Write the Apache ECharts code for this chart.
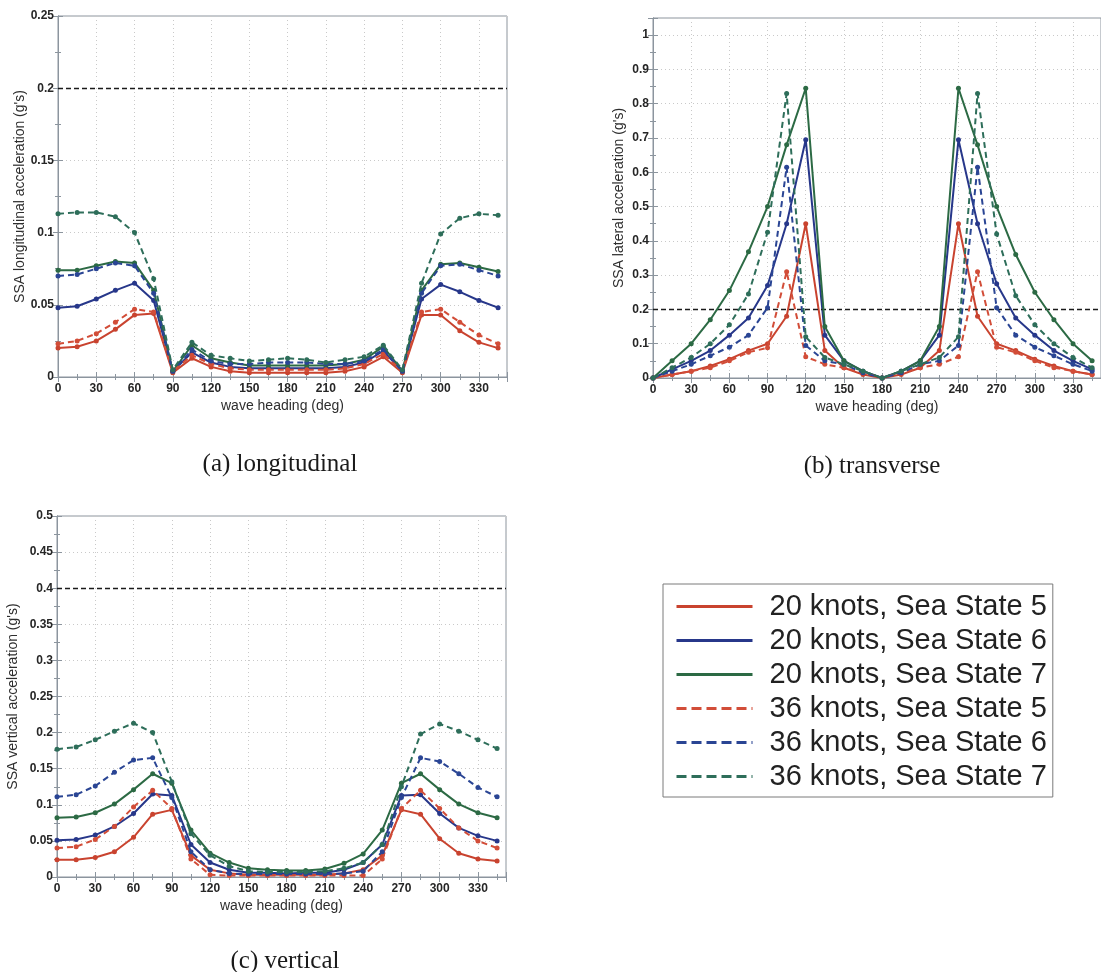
<!DOCTYPE html>
<html>
<head>
<meta charset="utf-8">
<script src="https://cdn.jsdelivr.net/npm/echarts@6/dist/echarts.min.js"></script>
<style>
  html, body { margin: 0; padding: 0; background: #ffffff; }
  #chart { width: 1101px; height: 972px; }
</style>
</head>
<body>
<div id="chart"></div>
<script>
// Wave headings (deg) at which the accelerations were evaluated
const headings = [0, 15, 30, 45, 60, 75, 90, 105, 120, 135, 150, 165, 180, 195, 210, 225, 240, 255, 270, 285, 300, 315, 330, 345];

const seriesNames = [
  '20 knots, Sea State 5', '20 knots, Sea State 6', '20 knots, Sea State 7',
  '36 knots, Sea State 5', '36 knots, Sea State 6', '36 knots, Sea State 7'
];

// (a) longitudinal acceleration (g's)
const lon20ss5 = [0.020, 0.021, 0.025, 0.033, 0.043, 0.044, 0.003, 0.013, 0.007, 0.004, 0.003, 0.003, 0.003, 0.003, 0.003, 0.004, 0.007, 0.014, 0.003, 0.043, 0.043, 0.032, 0.024, 0.020];
const lon20ss6 = [0.048, 0.049, 0.054, 0.060, 0.065, 0.053, 0.004, 0.017, 0.010, 0.007, 0.006, 0.006, 0.006, 0.006, 0.006, 0.007, 0.010, 0.018, 0.004, 0.054, 0.064, 0.059, 0.053, 0.048];
const lon20ss7 = [0.074, 0.074, 0.077, 0.080, 0.079, 0.060, 0.004, 0.022, 0.013, 0.010, 0.008, 0.008, 0.008, 0.008, 0.008, 0.009, 0.012, 0.021, 0.004, 0.060, 0.078, 0.079, 0.076, 0.073];
const lon36ss5 = [0.023, 0.025, 0.030, 0.038, 0.047, 0.045, 0.004, 0.015, 0.009, 0.006, 0.005, 0.005, 0.005, 0.005, 0.005, 0.006, 0.009, 0.016, 0.004, 0.045, 0.047, 0.038, 0.029, 0.023];
const lon36ss6 = [0.070, 0.071, 0.075, 0.079, 0.077, 0.058, 0.004, 0.019, 0.011, 0.009, 0.009, 0.010, 0.010, 0.010, 0.009, 0.009, 0.011, 0.019, 0.004, 0.058, 0.077, 0.078, 0.074, 0.070];
const lon36ss7 = [0.113, 0.114, 0.114, 0.111, 0.100, 0.068, 0.005, 0.024, 0.015, 0.013, 0.011, 0.012, 0.013, 0.012, 0.010, 0.012, 0.014, 0.022, 0.005, 0.065, 0.099, 0.110, 0.113, 0.112];

// (b) lateral acceleration (g's)
const lat20ss5 = [0, 0.010, 0.020, 0.035, 0.055, 0.080, 0.100, 0.180, 0.450, 0.080, 0.030, 0.010, 0, 0.010, 0.030, 0.080, 0.450, 0.180, 0.100, 0.080, 0.055, 0.035, 0.020, 0.010];
const lat20ss6 = [0, 0.025, 0.050, 0.080, 0.125, 0.175, 0.270, 0.450, 0.695, 0.125, 0.050, 0.020, 0, 0.020, 0.050, 0.125, 0.695, 0.450, 0.275, 0.175, 0.125, 0.080, 0.050, 0.025];
const lat20ss7 = [0, 0.050, 0.100, 0.170, 0.255, 0.368, 0.500, 0.680, 0.845, 0.150, 0.050, 0.020, 0, 0.020, 0.050, 0.150, 0.845, 0.680, 0.500, 0.360, 0.250, 0.170, 0.100, 0.050];
const lat36ss5 = [0, 0.010, 0.020, 0.030, 0.050, 0.075, 0.088, 0.310, 0.062, 0.040, 0.030, 0.015, 0, 0.015, 0.030, 0.040, 0.062, 0.310, 0.090, 0.075, 0.050, 0.030, 0.020, 0.010];
const lat36ss6 = [0, 0.020, 0.040, 0.065, 0.090, 0.125, 0.205, 0.615, 0.095, 0.050, 0.040, 0.015, 0, 0.015, 0.040, 0.050, 0.095, 0.615, 0.205, 0.125, 0.090, 0.065, 0.040, 0.020];
const lat36ss7 = [0, 0.030, 0.060, 0.100, 0.155, 0.245, 0.425, 0.830, 0.120, 0.060, 0.040, 0.020, 0, 0.020, 0.040, 0.060, 0.120, 0.830, 0.420, 0.240, 0.155, 0.100, 0.060, 0.030];

// (c) vertical acceleration (g's)
const ver20ss5 = [0.024, 0.024, 0.027, 0.035, 0.055, 0.087, 0.093, 0.030, 0.010, 0.005, 0.003, 0.003, 0.003, 0.003, 0.003, 0.005, 0.010, 0.030, 0.093, 0.087, 0.053, 0.033, 0.025, 0.022];
const ver20ss6 = [0.051, 0.052, 0.058, 0.070, 0.088, 0.115, 0.113, 0.045, 0.020, 0.010, 0.006, 0.006, 0.005, 0.006, 0.006, 0.010, 0.020, 0.045, 0.113, 0.114, 0.088, 0.068, 0.057, 0.050];
const ver20ss7 = [0.082, 0.083, 0.089, 0.101, 0.121, 0.143, 0.130, 0.065, 0.033, 0.020, 0.012, 0.010, 0.009, 0.009, 0.011, 0.019, 0.032, 0.065, 0.130, 0.143, 0.121, 0.101, 0.089, 0.082];
const ver36ss5 = [0.040, 0.042, 0.052, 0.070, 0.097, 0.120, 0.095, 0.025, 0.003, 0.002, 0.002, 0.002, 0.002, 0.002, 0.002, 0.002, 0.002, 0.025, 0.095, 0.120, 0.095, 0.068, 0.050, 0.040];
const ver36ss6 = [0.111, 0.114, 0.126, 0.145, 0.162, 0.165, 0.110, 0.035, 0.010, 0.005, 0.004, 0.004, 0.004, 0.004, 0.004, 0.005, 0.008, 0.035, 0.110, 0.165, 0.160, 0.143, 0.124, 0.111];
const ver36ss7 = [0.177, 0.180, 0.190, 0.202, 0.213, 0.200, 0.132, 0.060, 0.030, 0.015, 0.008, 0.007, 0.007, 0.007, 0.008, 0.012, 0.020, 0.045, 0.125, 0.198, 0.212, 0.202, 0.190, 0.178];

// Acceleration criteria drawn as dashed limit lines
const limitLon = 0.2;
const limitLat = 0.2;
const limitVer = 0.4;

const xTickStep = 30;
const xMax = 352;

// Line styling per series (order matches seriesNames)
const lineColors = ['#c9432f', '#27378a', '#2c6a44', '#d24d38', '#2a4594', '#2e6e5a'];
const dashed = [false, false, false, true, true, true];

const panels = [
  {
    grid: { left: 58, top: 16, width: 449, height: 361 },
    yMax: 0.25, yStep: 0.05, nameGap: 31,
    yName: "SSA longitudinal acceleration (g's)",
    values: [lon20ss5, lon20ss6, lon20ss7, lon36ss5, lon36ss6, lon36ss7],
    limit: limitLon
  },
  {
    grid: { left: 653, top: 18, width: 455, height: 360 },
    yMax: 1.05, yStep: 0.1, nameGap: 27,
    yName: "SSA lateral acceleration (g's)",
    values: [lat20ss5, lat20ss6, lat20ss7, lat36ss5, lat36ss6, lat36ss7],
    limit: limitLat
  },
  {
    grid: { left: 57, top: 516, width: 449, height: 361 },
    yMax: 0.5, yStep: 0.05, nameGap: 37,
    yName: "SSA vertical acceleration (g's)",
    values: [ver20ss5, ver20ss6, ver20ss7, ver36ss5, ver36ss6, ver36ss7],
    limit: limitVer
  }
];

const frameColor = '#8c959e';
const labelFont = { fontFamily: 'Liberation Sans', fontSize: 12, fontWeight: 'bold', color: '#262626' };
const nameFont = { fontFamily: 'Liberation Sans', fontSize: 14, color: '#2e2e2e' };

const grids = [], xAxes = [], yAxes = [], series = [];

panels.forEach((p, i) => {
  grids.push(Object.assign({ show: true, borderColor: frameColor, borderWidth: 1, containLabel: false }, p.grid));

  const tickCommon = {
    axisLine: { show: true, lineStyle: { color: frameColor, width: 1 } },
    axisTick: { show: true, inside: true, length: 5, lineStyle: { color: frameColor } },
    minorTick: { show: true, splitNumber: 2, length: 3, lineStyle: { color: frameColor } }
  };

  xAxes.push(Object.assign({
    type: 'value', gridIndex: i, position: 'bottom', min: 0, max: xMax, interval: xTickStep,
    name: 'wave heading (deg)', nameLocation: 'middle', nameGap: 22, nameTextStyle: nameFont,
    axisLabel: Object.assign({ margin: 6, showMaxLabel: false }, labelFont),
    splitLine: { show: true, lineStyle: { color: '#c9c9c9', type: [1, 3], width: 1 } }
  }, tickCommon));
  xAxes.push(Object.assign({
    type: 'value', gridIndex: i, position: 'top', min: 0, max: xMax, interval: xTickStep,
    axisLabel: { show: false }, splitLine: { show: false }
  }, tickCommon));

  yAxes.push(Object.assign({
    type: 'value', gridIndex: i, position: 'left', min: 0, max: p.yMax, interval: p.yStep,
    name: p.yName, nameLocation: 'middle', nameGap: p.nameGap, nameTextStyle: nameFont,
    axisLabel: Object.assign({ margin: 4, showMaxLabel: p.yMax !== 1.05 }, labelFont),
    splitLine: { show: true, lineStyle: { color: '#c9c9c9', type: [1, 3], width: 1 } }
  }, tickCommon));
  yAxes.push(Object.assign({
    type: 'value', gridIndex: i, position: 'right', min: 0, max: p.yMax, interval: p.yStep,
    axisLabel: { show: false }, splitLine: { show: false }
  }, tickCommon));

  p.values.forEach((vals, k) => {
    const s = {
      type: 'line',
      name: seriesNames[k],
      xAxisIndex: 2 * i,
      yAxisIndex: 2 * i,
      data: headings.map((h, j) => [h, vals[j]]),
      symbol: 'circle',
      symbolSize: 5,
      color: lineColors[k],
      lineStyle: { width: 2, color: lineColors[k], type: dashed[k] ? [6, 4] : 'solid' },
      itemStyle: { color: lineColors[k] },
      animation: false,
      z: 3 + k
    };
    if (k === 0) {
      s.markLine = {
        silent: true,
        symbol: 'none',
        label: { show: false },
        lineStyle: { color: '#1a1a1a', type: [5, 3], width: 1.4 },
        data: [{ yAxis: p.limit }],
        animation: false
      };
    }
    series.push(s);
  });
});

const option = {
  backgroundColor: '#ffffff',
  animation: false,
  title: [
    { text: '(a) longitudinal', left: 275, top: 447 },
    { text: '(b) transverse', left: 867, top: 449 },
    { text: '(c) vertical', left: 280, top: 944 }
  ].map(t => Object.assign(t, {
    textAlign: 'center',
    textStyle: { fontFamily: 'Liberation Serif', fontSize: 25, fontWeight: 'normal', color: '#1a1a1a' }
  })),
  legend: {
    orient: 'vertical',
    left: 663,
    top: 584,
    padding: [8, 6, 6, 12],
    itemWidth: 76,
    itemHeight: 14,
    itemGap: 5,
    selectedMode: false,
    borderColor: '#7a7a7a',
    borderWidth: 1,
    backgroundColor: '#ffffff',
    textStyle: { fontFamily: 'Liberation Sans', fontSize: 29, color: '#222222', padding: [0, 0, 0, 12] },
    data: seriesNames.map((n, k) => ({
      name: n,
      itemStyle: { opacity: 0 },
      lineStyle: { width: 3, color: lineColors[k], type: dashed[k] ? [10, 5] : 'solid' }
    }))
  },
  grid: grids,
  xAxis: xAxes,
  yAxis: yAxes,
  series: series
};

const chart = echarts.init(document.getElementById('chart'), null, { renderer: 'canvas' });
chart.setOption(option);
</script>
</body>
</html>
